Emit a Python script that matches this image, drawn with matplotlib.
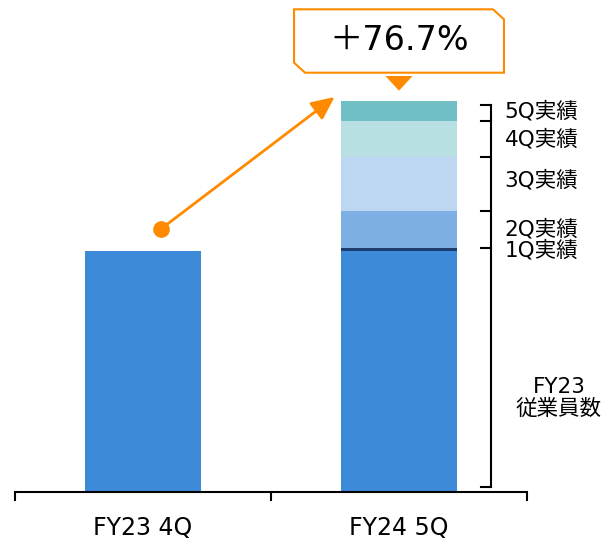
import matplotlib
matplotlib.use("Agg")
import matplotlib.pyplot as plt
from matplotlib.patches import Polygon, FancyArrowPatch

plt.rcParams['font.family'] = ['DejaVu Sans', 'Noto Sans CJK JP']

categories = ["FY23 4Q", "FY24 5Q"]
base_value = 241          # FY23 employees (same on both bars)
segments = ["1Q実績", "2Q実績", "3Q実績", "4Q実績", "5Q実績"]
segment_values = [3, 37, 54, 36, 20]
segment_colors = ["#1C3F6E", "#7DAFE4", "#BDD7F2", "#B8E0E2", "#6FBFC5"]
base_color = "#3D8AD9"
base_label = "FY23\n従業員数"
growth_label = "＋76.7%"
orange = "#FF8A00"

fig = plt.figure(figsize=(6.02, 5.45), dpi=100)
ax = fig.add_axes([0, 0, 1, 1])
ax.set_xlim(-143/256, (602-143)/256)
ax.set_ylim(-53, 492)
ax.axis('off')

x = [0, 1]
w = 116/256
ax.bar(x, [base_value, base_value], width=w, color=base_color, zorder=2)
bottom = base_value
bounds = [base_value]
for v, c in zip(segment_values, segment_colors):
    ax.bar(1, v, width=w, bottom=bottom, color=c, zorder=2)
    bottom += v
    bounds.append(bottom)
total = bottom

# x-axis line with ticks
ax.plot([-0.5, 1.5], [0, 0], color='black', lw=1.5, solid_capstyle='butt', zorder=3)
for t in [-0.5, 0.5, 1.5]:
    ax.plot([t, t], [0, -8], color='black', lw=1.5, zorder=3)
for xi, lab in zip(x, categories):
    ax.text(xi, -36, lab, ha='center', va='center', fontsize=17)

# bracket on right
bx = 1.359
tl = 0.04
ax.plot([bx, bx], [5, total - 4], color='black', lw=1.5, zorder=3)
ticks_y = [5] + bounds[1:-1] + [total - 4]
for ty in ticks_y:
    ax.plot([bx - tl, bx], [ty, ty], color='black', lw=1.5, zorder=3)
for i, lab in enumerate(segments):
    mid = (bounds[i] + bounds[i+1]) / 2
    if i == 0:
        mid = bounds[0] + 1
    if i == 2:
        mid += 4
    ax.text(1.412, mid, lab, ha='left', va='center', fontsize=15.5)
ax.text(1.625, base_value * 0.39, base_label, ha='center', va='center',
        fontsize=15.5, linespacing=1.15)

# arrow from left bar to right bar top
start = (0.07, base_value + 22)
end = (1 - w/2 - 0.025, total + 4)
ax.plot(*start, 'o', color=orange, ms=11, zorder=4)
arr = FancyArrowPatch(start, end, arrowstyle='-|>,head_length=14,head_width=6.5',
                      color=orange, lw=2, mutation_scale=1, shrinkA=0, shrinkB=0, zorder=4)
ax.add_patch(arr)

# callout box
cx = 1.0
hw = 0.41
yt, yb = 482.7, 419.3
ch_x, ch_y = 0.043, 10
box = Polygon([(cx - hw, yt), (cx + hw - ch_x, yt), (cx + hw, yt - ch_y),
               (cx + hw, yb), (cx - hw + ch_x, yb), (cx - hw, yb + ch_y)],
              closed=True, facecolor='white', edgecolor=orange, lw=1.5, zorder=5)
ax.add_patch(box)
ax.text(cx, (yt + yb) / 2 + 1, growth_label, ha='center', va='center', fontsize=24, zorder=6)
tri = Polygon([(cx - 0.053, 416), (cx + 0.053, 416), (cx, 401.3)], closed=True,
              facecolor=orange, edgecolor='none', zorder=5)
ax.add_patch(tri)

fig.savefig("out.png", dpi=100)
